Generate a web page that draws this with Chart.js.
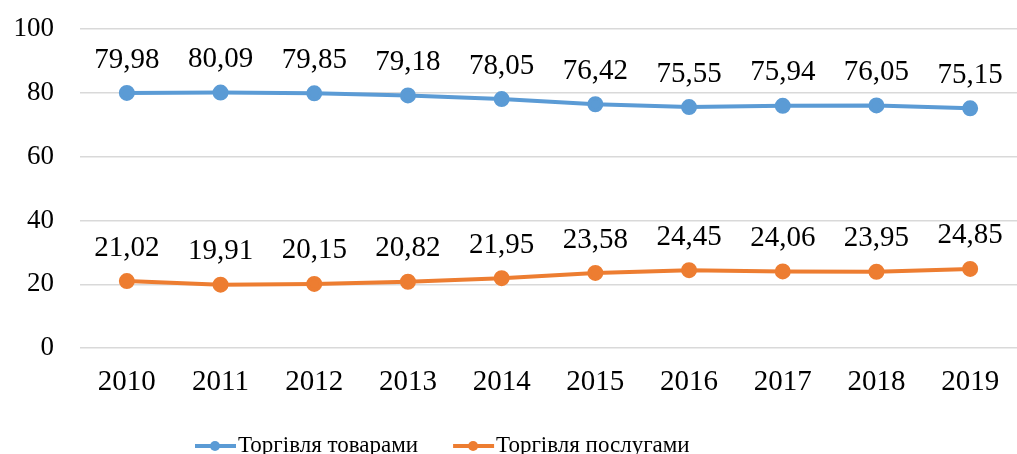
<!DOCTYPE html>
<html>
<head>
<meta charset="utf-8">
<script src="https://cdn.jsdelivr.net/npm/chart.js@4.4.1/dist/chart.umd.min.js"></script>
<style>
  html, body { margin: 0; padding: 0; background: #fff; overflow: hidden; }
  #wrap { width: 1017px; height: 454px; }
</style>
</head>
<body>
<div id="wrap"><canvas id="chart"></canvas></div>
<script>
// Data
const years = ['2010', '2011', '2012', '2013', '2014', '2015', '2016', '2017', '2018', '2019'];
const goodsTrade = [79.98, 80.09, 79.85, 79.18, 78.05, 76.42, 75.55, 75.94, 76.05, 75.15];
const servicesTrade = [21.02, 19.91, 20.15, 20.82, 21.95, 23.58, 24.45, 24.06, 23.95, 24.85];
const yTicks = [0, 20, 40, 60, 80, 100];

const FONT = '"Liberation Serif", "Times New Roman", serif';
const blue = '#5B9BD5';
const orange = '#ED7D31';

// value labels above each point
const valueLabels = {
  id: 'valueLabels',
  afterDatasetsDraw(chart) {
    const ctx = chart.ctx;
    ctx.save();
    ctx.font = '29px ' + FONT;
    ctx.fillStyle = '#000';
    ctx.textAlign = 'center';
    ctx.textBaseline = 'middle';
    chart.data.datasets.forEach((ds, i) => {
      chart.getDatasetMeta(i).data.forEach((pt, j) => {
        ctx.fillText(ds.data[j].toFixed(2).replace('.', ','), pt.x, pt.y - 33);
      });
    });
    ctx.restore();
  }
};

// Excel-like legend at the bottom: short line with a dot, then the name
const lineLegend = {
  id: 'lineLegend',
  afterDraw(chart) {
    const ctx = chart.ctx;
    const y = 446;
    let x = 195;
    ctx.save();
    ctx.font = '23px ' + FONT;
    ctx.textBaseline = 'middle';
    chart.data.datasets.forEach(ds => {
      ctx.strokeStyle = ds.borderColor;
      ctx.fillStyle = ds.borderColor;
      ctx.lineWidth = 4;
      ctx.beginPath(); ctx.moveTo(x, y); ctx.lineTo(x + 41, y); ctx.stroke();
      ctx.beginPath(); ctx.arc(x + 20, y, 5, 0, Math.PI * 2); ctx.fill();
      x += 43;
      ctx.fillStyle = '#000';
      ctx.fillText(ds.label, x, y);
      x += ctx.measureText(ds.label).width + 35;
    });
    ctx.restore();
  }
};

new Chart(document.getElementById('chart'), {
  type: 'line',
  data: {
    labels: years,
    datasets: [
      {
        label: 'Торгівля товарами',
        data: goodsTrade,
        borderColor: blue,
        backgroundColor: blue,
        borderWidth: 4,
        pointRadius: 6,
        pointHoverRadius: 6,
        tension: 0
      },
      {
        label: 'Торгівля послугами',
        data: servicesTrade,
        borderColor: orange,
        backgroundColor: orange,
        borderWidth: 4,
        pointRadius: 6,
        pointHoverRadius: 6,
        tension: 0
      }
    ]
  },
  options: {
    responsive: true,
    maintainAspectRatio: false,
    animation: false,
    layout: { autoPadding: false, padding: { left: 13, right: 0, top: 29, bottom: 37 } },
    plugins: {
      tooltip: { enabled: false },
      legend: { display: false }
    },
    scales: {
      x: {
        offset: true,
        afterFit: axis => { axis.paddingLeft = 0; axis.paddingRight = 0; },
        grid: { display: false, drawTicks: false },
        border: { display: false },
        ticks: { color: '#000', font: { family: FONT, size: 29 }, padding: 17 }
      },
      y: {
        min: 0,
        max: 100,
        afterBuildTicks: axis => { axis.ticks = yTicks.map(v => ({ value: v })); },
        afterFit: axis => { axis.width = 67; axis.paddingTop = 0; axis.paddingBottom = 0; },
        grid: { color: '#d9d9d9', lineWidth: 1.5, drawTicks: false },
        border: { display: false },
        ticks: { color: '#000', font: { family: FONT, size: 27 }, padding: 26 }
      }
    }
  },
  plugins: [valueLabels, lineLegend]
});
</script>
</body>
</html>
